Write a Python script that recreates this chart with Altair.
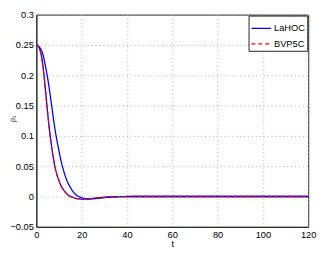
import altair as alt
import pandas as pd

# fast-decaying LaHOC run (overlaid by BVP5C)
t_fast = [0, 1, 2, 3, 4, 5, 6, 7, 8, 9, 10, 11, 12, 13, 14, 15, 16, 17, 18, 19, 20,
          21, 22, 24, 26, 28, 30, 32, 34, 36, 38, 40, 50, 60, 80, 100, 120]
v_fast = [0.250, 0.247, 0.236, 0.212, 0.176, 0.137, 0.103, 0.075, 0.053, 0.037, 0.026,
          0.017, 0.011, 0.006, 0.0025, 0.0002, -0.0015, -0.0027, -0.0035, -0.0040, -0.0042,
          -0.0042, -0.0040, -0.0034, -0.0026, -0.0019, -0.0013, -0.0008, -0.0005, -0.0003,
          -0.0001, 0.0, 0.0, 0.0, 0.0, 0.0, 0.0]

# slower-decaying LaHOC run
t_slow = [0, 1, 2, 3, 4, 5, 6, 7, 8, 9, 10, 11, 12, 13, 14, 15, 16, 17, 18, 19, 20,
          21, 22, 23, 24, 26, 28, 30, 32, 34, 36, 38, 40, 42, 50, 60, 80, 100, 120]
v_slow = [0.250, 0.248, 0.243, 0.233, 0.215, 0.195, 0.170, 0.143, 0.116, 0.094, 0.075,
          0.057, 0.043, 0.031, 0.022, 0.015, 0.009, 0.0045, 0.0015, -0.0005, -0.0020,
          -0.0032, -0.0039, -0.0042, -0.0041, -0.0035, -0.0027, -0.0019, -0.0012, -0.0007,
          -0.0004, -0.0002, -0.0001, 0.0, 0.0, 0.0, 0.0, 0.0, 0.0]

methods = ["LaHOC", "BVP5C"]
colors = ["#0000ff", "#ff0000"]
dashes = [[1, 0], [4, 3]]

x_ticks = [0, 20, 40, 60, 80, 100, 120]
y_ticks = [-0.05, 0, 0.05, 0.1, 0.15, 0.2, 0.25, 0.3]

rows = []
for t, v in zip(t_slow, v_slow):
    rows.append({"t": t, "v": v, "method": "LaHOC", "run": "LaHOC-slow"})
for t, v in zip(t_fast, v_fast):
    rows.append({"t": t, "v": v, "method": "LaHOC", "run": "LaHOC-fast"})
df_blue = pd.DataFrame(rows)
df_red = pd.DataFrame({"t": t_fast, "v": v_fast, "method": "BVP5C", "run": "BVP5C"})

FONT = "Liberation Sans"

x_enc = alt.X("t:Q", scale=alt.Scale(domain=[0, 120], nice=False),
              axis=alt.Axis(values=x_ticks, title="t", format="d"))
y_enc = alt.Y("v:Q", scale=alt.Scale(domain=[-0.05, 0.3], nice=False, zero=False),
              axis=alt.Axis(values=y_ticks, title="ρ₃", format="~g",
                            titleX=-24, titleY=106, titleAngle=270,
                            titleAlign="center", titleBaseline="middle"))
color_enc = alt.Color("method:N", scale=alt.Scale(domain=methods, range=colors),
                      legend=alt.Legend(title=None))
dash_enc = alt.StrokeDash("method:N", scale=alt.Scale(domain=methods, range=dashes),
                          legend=alt.Legend(title=None))

blue = alt.Chart(df_blue).mark_line(strokeWidth=1.3, interpolate="monotone").encode(
    x=x_enc, y=y_enc, color=color_enc, strokeDash=dash_enc, detail="run:N")
red = alt.Chart(df_red).mark_line(strokeWidth=1.3, interpolate="monotone").encode(
    x=x_enc, y=y_enc, color=color_enc, strokeDash=dash_enc)

chart = alt.layer(blue, red).properties(
    width=278, height=217,
    autosize=alt.AutoSizeParams(type="none"),
    padding={"left": 29, "top": 4, "right": 10, "bottom": 24},
).configure_view(
    stroke="#222", strokeWidth=1
).configure_axis(
    labelFont=FONT, titleFont=FONT, labelFontSize=9.5, titleFontSize=9.5,
    titleFontWeight="normal", labelColor="#000", titleColor="#000",
    domainColor="#222", domainWidth=1, ticks=False, labelPadding=3,
    grid=True, gridColor="#a8a8a8", gridDash=[1, 3], gridWidth=1, gridOpacity=1,
).configure_axisX(
    titlePadding=0, labelFlush=False
).configure_axisY(
    titleFontSize=7, labelFlush=False
).configure_legend(
    orient="top-right", offset=1, strokeColor="#222", fillColor="white",
    padding=2, labelFont=FONT, labelFontSize=9.5, labelColor="#000",
    symbolType="stroke", symbolSize=400, symbolStrokeWidth=1.3,
    labelOffset=2, rowPadding=0, cornerRadius=0,
)

chart.save("out.html", embed_options={"renderer": "svg", "actions": False})
